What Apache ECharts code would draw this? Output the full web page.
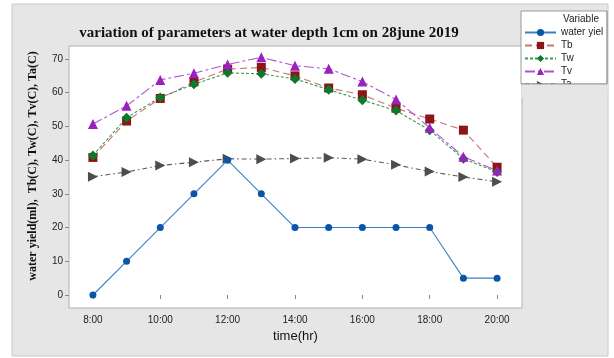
<!DOCTYPE html>
<html>
<head>
<meta charset="utf-8">
<script src="https://cdn.jsdelivr.net/npm/echarts@6/dist/echarts.min.js"></script>
<style>
  html, body { margin: 0; padding: 0; background: #fff; }
  #chart { width: 614px; height: 358px; }
</style>
</head>
<body>
<div id="chart"></div>
<script>
// hours of the day
var hours = [8, 9, 10, 11, 12, 13, 14, 15, 16, 17, 18, 19, 20];
var xTicks = [8, 10, 12, 14, 16, 18, 20];
var yTicks = [0, 10, 20, 30, 40, 50, 60, 70];

var waterYield = [0, 10, 20, 30, 40, 30, 20, 20, 20, 20, 20, 5, 5];
var tb = [40.8, 51.6, 58.3, 63.2, 67.0, 67.5, 65.0, 61.4, 59.4, 55.4, 52.2, 48.9, 37.9];
var tw = [41.4, 52.6, 58.6, 62.5, 65.9, 65.6, 64.1, 60.9, 57.8, 54.7, 48.9, 40.4, 36.5];
var tv = [50.7, 56.1, 63.8, 65.8, 68.4, 70.5, 68.0, 67.1, 63.3, 58.0, 49.6, 41.0, 36.9];
var ta = [35.1, 36.5, 38.4, 39.4, 40.4, 40.3, 40.5, 40.7, 40.3, 38.6, 36.6, 35.0, 33.6];

function pairs(vals) {
  return hours.map(function (h, i) { return [h, vals[i]]; });
}

function line(name, vals, opts) {
  return {
    name: name,
    type: 'line',
    data: pairs(vals),
    symbol: opts.symbol,
    symbolSize: opts.size,
    symbolRotate: opts.rotate || 0,
    z: opts.z || 2,
    itemStyle: { color: opts.dot },
    lineStyle: { color: opts.line, width: 1.1, type: opts.dash },
    emphasis: { disabled: true },
    animation: false
  };
}

var chart = echarts.init(document.getElementById('chart'));
chart.setOption({
  backgroundColor: '#fff',
  graphic: [
    { type: 'rect', z: -10, shape: { x: 12, y: 4, width: 596, height: 352 },
      style: { fill: '#e6e6e6', stroke: '#c8c8c8', lineWidth: 1 } },
    { type: 'rect', z: 1, shape: { x: 521, y: 11, width: 86, height: 73 },
      style: { fill: '#fff', stroke: '#9a9a9a', lineWidth: 1 } },
    { type: 'text', z: 5, left: 563, top: 14,
      style: { text: 'Variable', fill: '#222', font: '10px "Liberation Sans"' } },
    { type: 'rect', z: 100, shape: { x: 521.5, y: 84, width: 86, height: 14 },
      style: { fill: '#e6e6e6' } },
    { type: 'line', z: 101, shape: { x1: 521, y1: 84, x2: 607, y2: 84 },
      style: { stroke: '#9a9a9a', lineWidth: 1 } },
    { type: 'line', z: 101, shape: { x1: 607, y1: 11, x2: 607, y2: 84 },
      style: { stroke: '#9a9a9a', lineWidth: 1 } },
    { type: 'text', z: 5, x: 33, y: 166, rotation: Math.PI / 2,
      style: { text: 'water yield(ml),  Tb(C), Tw(C), Tv(C), Ta(C)', fill: '#111',
        font: 'bold 12px "Liberation Serif"', align: 'center', verticalAlign: 'middle' } }
  ],
  title: {
    text: 'variation of parameters at water depth 1cm on 28june 2019',
    left: 264, top: 21, textAlign: 'center',
    textStyle: { fontFamily: 'Liberation Serif', fontWeight: 'bold', fontSize: 15, color: '#111' }
  },
  legend: {
    orient: 'vertical', left: 524, top: 27.5, z: 10, padding: 0,
    itemWidth: 31, itemHeight: 9, itemGap: 3,
    data: ['water yield', 'Tb', 'Tw', 'Tv', 'Ta'],
    formatter: function (n) { return n === 'water yield' ? 'water yiel' : n; },
    textStyle: { fontFamily: 'Liberation Sans', fontSize: 10, color: '#222' }
  },
  grid: {
    left: 69, top: 46, width: 453, height: 262,
    show: true, backgroundColor: '#fff', borderColor: '#b0b0b0', borderWidth: 1
  },
  xAxis: {
    type: 'value', min: 7.29, max: 20.74,
    name: 'time(hr)', nameLocation: 'middle', nameGap: 22,
    nameTextStyle: { fontFamily: 'Liberation Sans', fontSize: 13, color: '#111' },
    axisLine: { show: false },
    axisTick: { show: true, length: 4, lineStyle: { color: '#888' }, customValues: xTicks },
    axisLabel: { customValues: xTicks, margin: 7, color: '#222', fontFamily: 'Liberation Sans', fontSize: 10,
      formatter: function (v) { return v + ':00'; } },
    splitLine: { show: false }
  },
  yAxis: {
    type: 'value', min: -3.86, max: 73.86,
    axisLine: { show: false },
    axisTick: { show: true, length: 4, lineStyle: { color: '#888' }, customValues: yTicks },
    axisLabel: { customValues: yTicks, margin: 6, color: '#222', fontFamily: 'Liberation Sans', fontSize: 10 },
    splitLine: { show: false }
  },
  series: [
    line('water yield', waterYield, { symbol: 'circle', size: 7, z: 3, dot: '#0b55a8', line: '#3f7cc8', dash: 'solid' }),
    line('Tb', tb, { symbol: 'rect', size: 9, dot: '#8c1515', line: '#c97474', dash: [7, 4] }),
    line('Tw', tw, { symbol: 'diamond', size: 10, dot: '#0b7a2c', line: '#3a9c52', dash: [3, 2] }),
    line('Tv', tv, { symbol: 'triangle', size: 10, dot: '#9a20c0', line: '#b055d2', dash: [10, 3, 3, 3] }),
    line('Ta', ta, { symbol: 'triangle', size: 10, rotate: -90, dot: '#4d4d4d', line: '#5a5a5a', dash: [5, 3, 1.5, 3] })
  ]
});
</script>
</body>
</html>
